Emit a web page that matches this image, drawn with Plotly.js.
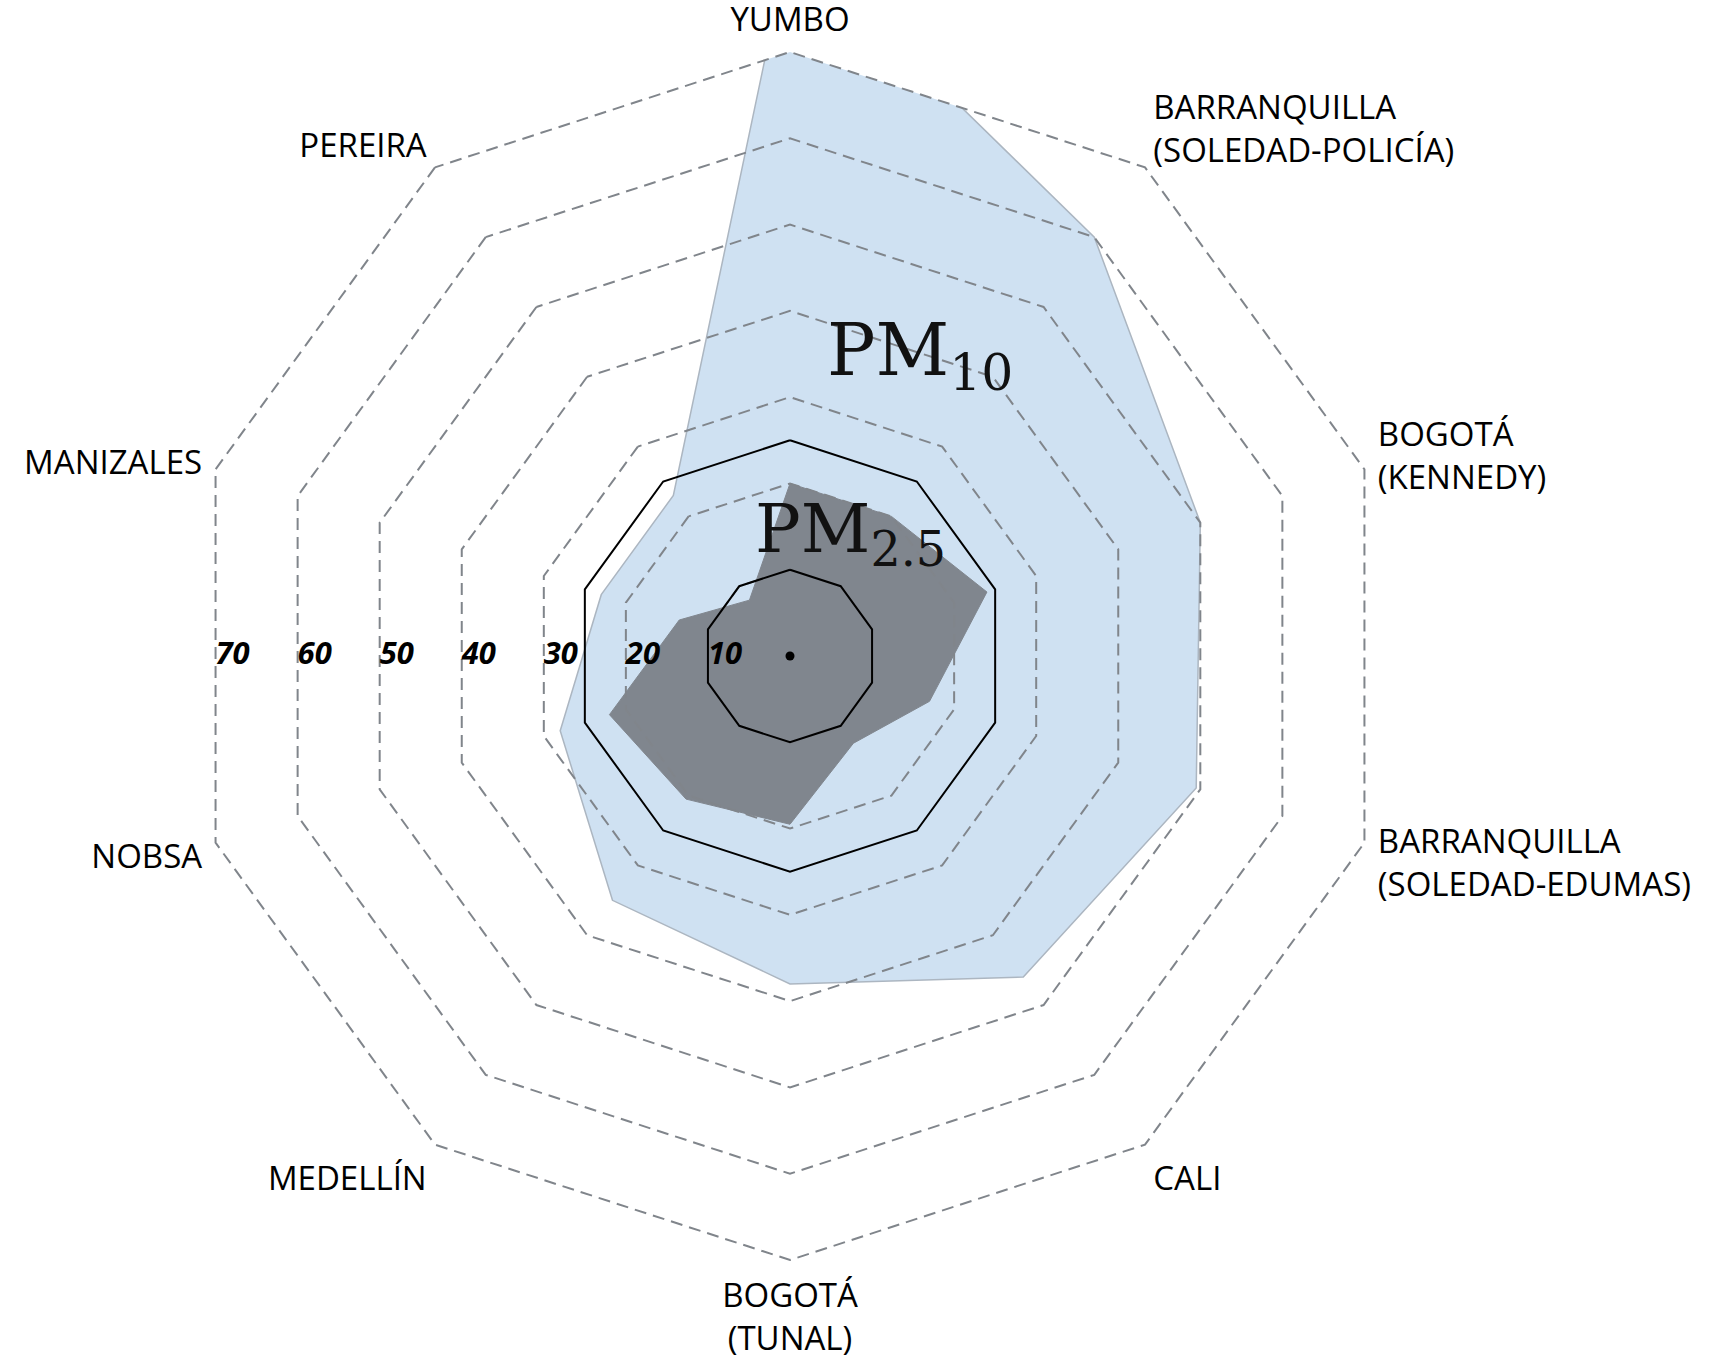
<!DOCTYPE html>
<html>
<head>
<meta charset="utf-8">
<script src="https://cdn.plot.ly/plotly-3.0.1.min.js"></script>
<style>
  html, body { margin: 0; padding: 0; background: #fff; }
  #plot { width: 1727px; height: 1365px; }
</style>
</head>
<body>
<div id="plot"></div>
<script>
// stations, clockwise from the top
var stations = ['YUMBO', 'BARRANQUILLA<br>(SOLEDAD-POLICÍA)', 'BOGOTÁ<br>(KENNEDY)',
  'BARRANQUILLA<br>(SOLEDAD-EDUMAS)', 'CALI', 'BOGOTÁ<br>(TUNAL)', 'MEDELLÍN',
  'NOBSA', 'MANIZALES', 'PEREIRA'];

// annual means (YUMBO PM10 runs past the outer ring)
var pm10 = [83, 60, 50, 49.5, 46, 38, 35, 28, 23, 23];
var pm25 = [20, 20, 24, 17, 12.5, 19.5, 20.5, 22, 13.5, 8];

// reference levels drawn as solid rings
var limits = [10, 25];

// radial tick labels
var ringTicks = [10, 20, 30, 40, 50, 60, 70];
var rMax = 70;

function close(arr) { return arr.concat([arr[0]]); }

// filled areas, bottom subplot
var pm10Trace = {
  type: 'scatterpolar', subplot: 'polar',
  r: close(pm10), theta: close(stations),
  mode: 'lines', fill: 'toself',
  fillcolor: 'rgb(207,225,242)',
  line: { color: 'rgb(172,182,193)', width: 1.5 },
  hoverinfo: 'skip'
};
var pm25Trace = {
  type: 'scatterpolar', subplot: 'polar',
  r: close(pm25), theta: close(stations),
  mode: 'lines', fill: 'toself',
  fillcolor: 'rgb(128,134,142)',
  line: { color: 'rgb(128,134,142)', width: 1 },
  hoverinfo: 'skip'
};

// solid reference rings, on the grid subplot (above the fills)
var limitTraces = limits.map(function(v) {
  return {
    type: 'scatterpolar', subplot: 'polar2',
    r: close(stations.map(function() { return v; })), theta: close(stations),
    mode: 'lines', line: { color: '#000', width: 2 },
    hoverinfo: 'skip'
  };
});

// centre dot
var centreDot = {
  type: 'scatterpolar', subplot: 'polar3',
  r: [0], theta: [0],
  mode: 'markers', marker: { color: '#000', size: 9 },
  hoverinfo: 'skip'
};

// ring labels along the left side (range of polar3 stretched so the text
// sits on the flat edge of each decagon)
var tickLabels = {
  type: 'scatterpolar', subplot: 'polar3',
  r: ringTicks, theta: ringTicks.map(function() { return 270; }),
  mode: 'text', text: ringTicks.map(String),
  textposition: 'middle right',
  textfont: { family: 'Open Sans', size: 31, color: '#000', weight: 'bold', style: 'italic' },
  cliponaxis: false,
  hoverinfo: 'skip'
};

var data = [pm10Trace, pm25Trace].concat(limitTraces, [centreDot, tickLabels]);

// all three polar subplots share the same centre; k scales the radius
var W = 1727, H = 1365, cx = 790, cy = 656, R = 604;
function domFor(k) {
  return {
    x: [(cx - R * k) / W, (cx + R * k) / W],
    y: [(H - cy - R * k) / H, (H - cy + R * k) / H]
  };
}
var gridMax = 72; // keeps the 70 ring from being dropped at the range end

var layout = {
  width: W, height: H,
  margin: { l: 0, r: 0, t: 0, b: 0, pad: 0 },
  paper_bgcolor: '#fff',
  showlegend: false,
  hovermode: false,
  polar: {
    domain: domFor(1), gridshape: 'linear', bgcolor: '#fff',
    radialaxis: { range: [0, rMax], visible: false },
    angularaxis: {
      type: 'category', categoryarray: stations,
      rotation: 90, direction: 'clockwise',
      showgrid: false, showline: false,
      ticks: 'outside', ticklen: 7, tickcolor: 'rgba(0,0,0,0)',
      tickfont: { family: 'Open Sans', size: 33, color: '#000' }
    }
  },
  polar2: {
    domain: domFor(gridMax / rMax), gridshape: 'linear', bgcolor: 'rgba(0,0,0,0)',
    radialaxis: {
      range: [0, gridMax], tick0: 0, dtick: 10,
      showgrid: true, gridcolor: '#80858b', gridwidth: 2, griddash: '12px,7px',
      showticklabels: false, showline: false, ticks: ''
    },
    angularaxis: {
      type: 'category', categoryarray: stations,
      rotation: 90, direction: 'clockwise',
      showgrid: false, showline: false, showticklabels: false, ticks: ''
    }
  },
  polar3: {
    domain: domFor(1), bgcolor: 'rgba(0,0,0,0)',
    radialaxis: { range: [0, rMax / Math.cos(Math.PI / 10)], visible: false },
    angularaxis: { rotation: 90, direction: 'clockwise', visible: false }
  },
  annotations: [
    { text: 'PM<sub>10</sub>', xref: 'paper', yref: 'paper', x: 920 / W, y: 1 - 355 / H,
      xanchor: 'center', yanchor: 'middle', showarrow: false,
      font: { family: 'DejaVu Serif', size: 72, color: '#111' } },
    { text: 'PM<sub>2.5</sub>', xref: 'paper', yref: 'paper', x: 850 / W, y: 1 - 533 / H,
      xanchor: 'center', yanchor: 'middle', showarrow: false,
      font: { family: 'DejaVu Serif', size: 68, color: '#111' } }
  ]
};

Plotly.newPlot('plot', data, layout, { displayModeBar: false, staticPlot: true });
</script>
</body>
</html>
